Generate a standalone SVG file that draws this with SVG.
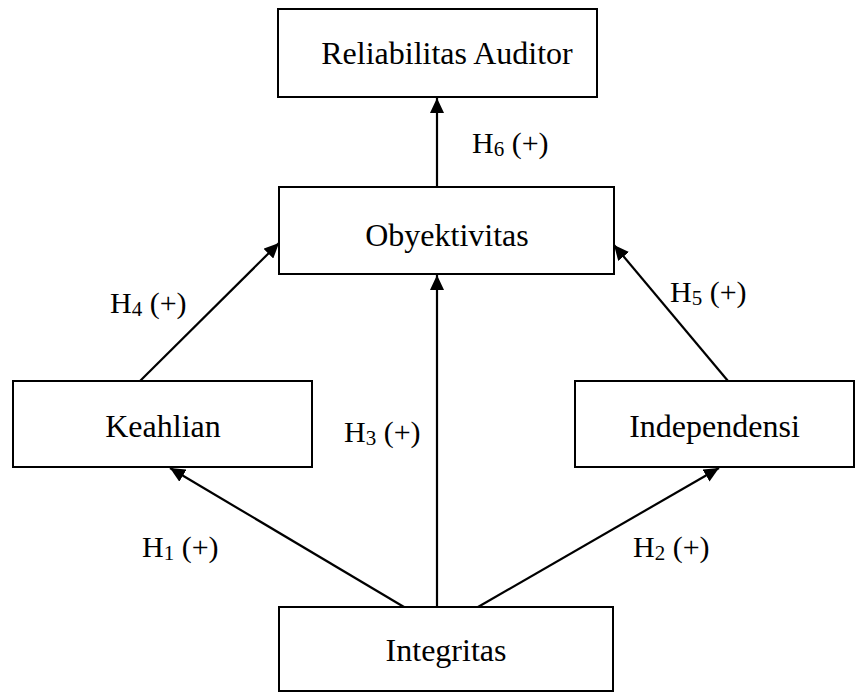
<svg xmlns="http://www.w3.org/2000/svg" width="857" height="692" viewBox="0 0 857 692">
  <style>
    .box { fill: #fff; stroke: #000; stroke-width: 2; }
    .lbl { font-family: "Liberation Serif", "Times New Roman", serif; font-size: 32px; fill: #000; }
    .hyp { font-family: "Liberation Serif", "Times New Roman", serif; font-size: 30px; fill: #000; }
    .sub { font-size: 21px; }
    .edge { stroke: #000; stroke-width: 2.2; fill: none; marker-end: url(#arrow); }
  </style>
  <defs>
    <marker id="arrow" markerUnits="userSpaceOnUse" markerWidth="16" markerHeight="14" refX="15" refY="7" orient="auto">
      <path d="M0,0 L15,7 L0,14 z" fill="#000"/>
    </marker>
  </defs>

  <rect width="857" height="692" fill="#fff"/>

  <g id="connectors">
    <line class="edge" x1="437" y1="187" x2="437" y2="98"/>
    <line class="edge" x1="140" y1="381" x2="279" y2="243"/>
    <line class="edge" x1="728" y1="381" x2="614" y2="245"/>
    <line class="edge" x1="437" y1="607" x2="437" y2="275"/>
    <line class="edge" x1="404" y1="607" x2="170" y2="468"/>
    <line class="edge" x1="478" y1="607" x2="719" y2="468"/>
  </g>

  <g id="node-reliabilitas">
    <rect class="box" x="278" y="9" width="319" height="88"/>
    <text class="lbl" x="447" y="64" text-anchor="middle">Reliabilitas Auditor</text>
  </g>
  <g id="node-obyektivitas">
    <rect class="box" x="279" y="187" width="335" height="87"/>
    <text class="lbl" x="447" y="246" text-anchor="middle">Obyektivitas</text>
  </g>
  <g id="node-keahlian">
    <rect class="box" x="13" y="381" width="299" height="86"/>
    <text class="lbl" x="163" y="437" text-anchor="middle">Keahlian</text>
  </g>
  <g id="node-independensi">
    <rect class="box" x="575" y="381" width="279" height="86"/>
    <text class="lbl" x="714.5" y="437" text-anchor="middle">Independensi</text>
  </g>
  <g id="node-integritas">
    <rect class="box" x="279" y="607" width="334" height="84"/>
    <text class="lbl" x="446" y="661" text-anchor="middle">Integritas</text>
  </g>

  <g id="labels">
    <text class="hyp" x="472" y="153">H<tspan class="sub" dy="3">6</tspan><tspan dy="-3"> (+)</tspan></text>
    <text class="hyp" x="110" y="313">H<tspan class="sub" dy="3">4</tspan><tspan dy="-3"> (+)</tspan></text>
    <text class="hyp" x="670" y="302">H<tspan class="sub" dy="3">5</tspan><tspan dy="-3"> (+)</tspan></text>
    <text class="hyp" x="344" y="442">H<tspan class="sub" dy="3">3</tspan><tspan dy="-3"> (+)</tspan></text>
    <text class="hyp" x="142" y="557">H<tspan class="sub" dy="3">1</tspan><tspan dy="-3"> (+)</tspan></text>
    <text class="hyp" x="633" y="557">H<tspan class="sub" dy="3">2</tspan><tspan dy="-3"> (+)</tspan></text>
  </g>
</svg>
